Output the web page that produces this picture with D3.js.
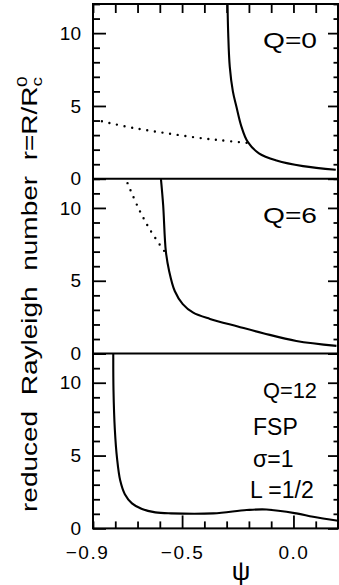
<!DOCTYPE html>
<html>
<head>
<meta charset="utf-8">
<script src="https://cdn.jsdelivr.net/npm/d3@7"></script>
<style>
  body { margin: 0; background: #fff; }
  svg { display: block; font-family: "Liberation Sans", Arial, Helvetica, sans-serif; }
</style>
</head>
<body>
<svg id="chart" width="339" height="585"></svg>
<script>
// values, [psi, r]
const panelLabels = ["Q=0", "Q=6", "Q=12"];
const q0Solid = [[-0.296, 12], [-0.293, 10], [-0.286, 7.7], [-0.272, 6.0], [-0.256, 4.94], [-0.234, 3.6],
  [-0.206, 2.55], [-0.155, 1.75], [-0.076, 1.26], [0.043, 0.87], [0.19, 0.62]];
const q0Dotted = [[-0.86, 3.95], [-0.719, 3.49], [-0.574, 3.14], [-0.435, 2.83], [-0.323, 2.64], [-0.206, 2.46]];
const q6Solid = [[-0.595, 12], [-0.585, 10.2], [-0.573, 7.03], [-0.558, 5.66], [-0.533, 4.3], [-0.497, 3.4],
  [-0.45, 2.81], [-0.375, 2.38], [-0.25, 1.86], [-0.136, 1.4], [0.013, 0.87], [0.193, 0.53]];
const q6Dotted = [[-0.745, 11.7], [-0.692, 9.86], [-0.64, 8.4], [-0.577, 6.97]];
const q12Solid = [[-0.809, 12], [-0.808, 9.5], [-0.802, 6.8], [-0.792, 4.8], [-0.778, 3.3], [-0.757, 2.35],
  [-0.725, 1.72], [-0.68, 1.33], [-0.62, 1.1], [-0.55, 1.03], [-0.36, 1.03], [-0.21, 1.26], [-0.121, 1.3],
  [0.013, 1.03], [0.088, 0.8], [0.2, 0.52]];
const xTicks = [-0.9, -0.8, -0.7, -0.6, -0.5, -0.4, -0.3, -0.2, -0.1, 0.0, 0.1, 0.2];
const xTickLabels = [-0.9, -0.5, 0.0];
const yTicks = [0, 1, 2, 3, 4, 5, 6, 7, 8, 9, 10, 11, 12];
const yTickLabels = [0, 5, 10];
const paramLines = ["FSP", "σ=1", "L =1/2"];

const solids = [q0Solid, q6Solid, q12Solid];
const dots = [q0Dotted, q6Dotted, []];

const mLeft = 93, mRight = 338, mTop = 4, ph = 174.8;
const svg = d3.select("#chart");
const x = d3.scaleLinear().domain([-0.9, 0.2]).range([mLeft, mRight]);
const isMajorX = d => Math.abs(d + 0.5) < 1e-6 || Math.abs(d) < 1e-6;

const line = d3.line().curve(d3.curveCatmullRom.alpha(0.5));

panelLabels.forEach((lab, i) => {
  const y0 = mTop + i * ph, y1 = mTop + (i + 1) * ph;
  const y = d3.scaleLinear().domain([0, 12]).range([y1, y0]);
  line.x(d => x(d[0])).y(d => y(d[1]));

  // left axis, ticks inward
  const la = svg.append("g").attr("transform", `translate(${mLeft},0)`)
    .call(d3.axisLeft(y).tickValues(yTicks).tickSize(-7).tickPadding(12)
      .tickFormat(d => yTickLabels.includes(d) ? d : ""));
  la.select(".domain").remove();
  la.selectAll(".tick line").attr("x2", d => d % 5 === 0 ? 13 : 7).attr("stroke-width", 1.8);
  la.selectAll(".tick text").attr("font-size", 19).attr("font-family", null).attr("fill", "#000");

  // right axis
  const ra = svg.append("g").attr("transform", `translate(${mRight},0)`)
    .call(d3.axisRight(y).tickValues(yTicks).tickSize(-4.5).tickFormat(""));
  ra.select(".domain").remove();
  ra.selectAll(".tick line").attr("x2", d => d % 5 === 0 ? -10 : -4.5).attr("stroke-width", 1.8);

  if (i === 0) {
    const ta = svg.append("g").attr("transform", `translate(0,${y0})`)
      .call(d3.axisTop(x).tickValues(xTicks).tickSize(-9).tickFormat(""));
    ta.select(".domain").remove();
    ta.selectAll(".tick line").attr("stroke-width", 1.8);
  }
  if (i === 2) {
    const ba = svg.append("g").attr("transform", `translate(0,${y1})`)
      .call(d3.axisBottom(x).tickValues(xTicks).tickSize(-7).tickPadding(17)
        .tickFormat(d => xTickLabels.some(v => Math.abs(v - d) < 1e-6) ? d3.format(".1f")(d) : ""));
    ba.select(".domain").remove();
    ba.selectAll(".tick line").attr("y2", d => isMajorX(d) ? -13 : -7).attr("stroke-width", 1.8);
    ba.selectAll(".tick text").attr("font-size", 19).attr("font-family", null).attr("fill", "#000")
      .attr("letter-spacing", 1.5)
      .attr("dx", d => Math.abs(d + 0.9) < 1e-6 ? -6 : 0);
  }

  svg.append("path").datum(solids[i]).attr("d", line)
    .attr("fill", "none").attr("stroke", "#000").attr("stroke-width", 2.1);
  if (dots[i].length) {
    svg.append("path").datum(dots[i]).attr("d", line)
      .attr("fill", "none").attr("stroke", "#000").attr("stroke-width", 2.4)
      .attr("stroke-linecap", "round").attr("stroke-dasharray", "0,7.7");
  }

  svg.append("text").attr("x", 263).attr("y", y0 + 44)
    .attr("font-size", 22).attr("textLength", 54).attr("lengthAdjust", "spacingAndGlyphs")
    .text(lab);
});

// frame
svg.append("rect").attr("x", mLeft).attr("y", mTop).attr("width", mRight - mLeft).attr("height", 3 * ph)
  .attr("fill", "none").attr("stroke", "#000").attr("stroke-width", 2);
[1, 2].forEach(k => svg.append("line").attr("x1", mLeft).attr("x2", mRight)
  .attr("y1", mTop + k * ph).attr("y2", mTop + k * ph).attr("stroke", "#000").attr("stroke-width", 2));

// parameters in the bottom panel
paramLines.forEach((t, k) => {
  svg.append("text").attr("x", k === 2 ? 250 : 253).attr("y", 435 + k * 31.5)
    .attr("font-size", 23).text(t);
});

// x label
svg.append("text").attr("x", 241).attr("y", 580).attr("text-anchor", "middle")
  .attr("font-size", 26).text("ψ");

// y label, stretched along its baseline like the scan
const yl = svg.append("g");
const ylt = yl.append("text").attr("font-size", 22).attr("xml:space", "preserve");
ylt.append("tspan").text("reduced  Rayleigh  number  r=R/R");
ylt.append("tspan").attr("font-size", 15).attr("dy", 5).text("c");
ylt.append("tspan").attr("font-size", 15).attr("dx", -8).attr("dy", -15).text("0");
const w = ylt.node().getBBox().width;
yl.attr("transform", `translate(37,512) rotate(-90) scale(${436 / w},1)`);
</script>
</body>
</html>
